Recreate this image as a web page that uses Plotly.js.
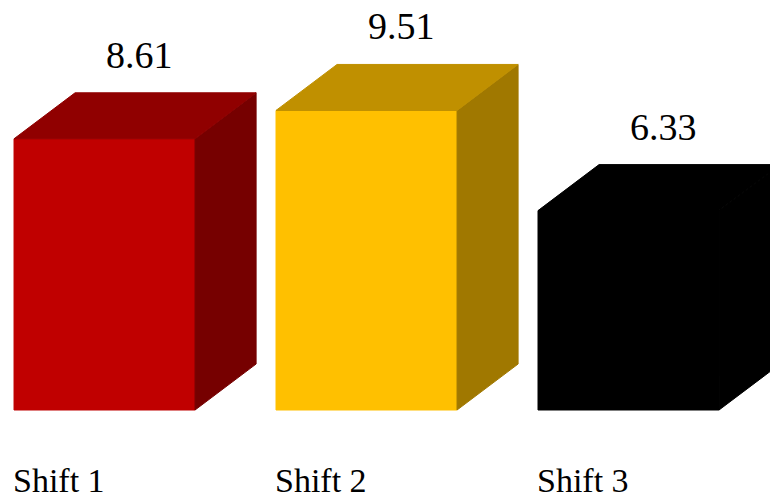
<!DOCTYPE html>
<html>
<head>
<meta charset="utf-8">
<script src="https://cdn.plot.ly/plotly-3.0.1.min.js"></script>
<style>
  html, body { margin: 0; padding: 0; background: #ffffff; }
  #chart { width: 770px; height: 499px; }
</style>
</head>
<body>
<div id="chart"></div>
<script>
// ---- data ----
const categories = ["Shift 1", "Shift 2", "Shift 3"];
const values = [8.61, 9.51, 6.33];
const valueLabels = ["8.61", "9.51", "6.33"];

// ---- styling ----
const frontColors = ["#C00000", "#FFC000", "#000000"];
const topColors   = ["#900000", "#C09000", "#000000"];
const sideColors  = ["#760000", "#A07800", "#000000"];

const barWidth = 0.691;   // front face width in category units
const depthX = 0.233;     // 3D depth offset (x, category units)
const depthY = 1.46;      // 3D depth offset (y, value units)
const fontFamily = "Liberation Serif";

const xs = categories.map((c, i) => i);
const traces = [];

// side and top faces derived from the values
xs.forEach((x, i) => {
  const v = values[i];
  const xl = x - barWidth / 2, xr = x + barWidth / 2;
  traces.push({
    type: "scatter", mode: "lines", fill: "toself",
    x: [xr, xr + depthX, xr + depthX, xr, xr],
    y: [0, depthY, v + depthY, v, 0],
    fillcolor: sideColors[i],
    line: { width: 1, color: sideColors[i] },
    hoverinfo: "skip", showlegend: false
  });
  traces.push({
    type: "scatter", mode: "lines", fill: "toself",
    x: [xl, xl + depthX, xr + depthX, xr, xl],
    y: [v, v + depthY, v + depthY, v, v],
    fillcolor: topColors[i],
    line: { width: 1, color: topColors[i] },
    hoverinfo: "skip", showlegend: false
  });
});

// front faces as real bars
traces.push({
  type: "bar",
  x: xs,
  y: values,
  width: barWidth,
  marker: { color: frontColors, line: { width: 1, color: frontColors } },
  hoverinfo: "skip",
  showlegend: false
});

const annotations = [];
xs.forEach((x, i) => {
  annotations.push({
    x: x + 0.133, y: values[i] + depthY,
    xref: "x", yref: "y",
    text: valueLabels[i],
    showarrow: false,
    xanchor: "center", yanchor: "middle",
    yshift: 38,
    font: { family: fontFamily, size: 38, color: "#000000" }
  });
  annotations.push({
    x: x - barWidth / 2, y: -2.25,
    xref: "x", yref: "y",
    text: categories[i],
    showarrow: false,
    xanchor: "left", yanchor: "middle",
    xshift: -3,
    font: { family: fontFamily, size: 34, color: "#000000" }
  });
});

const layout = {
  width: 770, height: 499,
  margin: { l: 0, r: 0, t: 0, b: 0, pad: 0 },
  paper_bgcolor: "#ffffff",
  plot_bgcolor: "#ffffff",
  font: { family: fontFamily, color: "#000000" },
  showlegend: false,
  barmode: "overlay",
  xaxis: {
    range: [-0.399, 2.540],
    showgrid: false, zeroline: false, showticklabels: false,
    showline: false, ticks: "", fixedrange: true
  },
  yaxis: {
    range: [-2.825, 13.016],
    showgrid: false, zeroline: false, showticklabels: false,
    showline: false, ticks: "", fixedrange: true
  },
  annotations: annotations
};

Plotly.newPlot("chart", traces, layout, { displayModeBar: false, staticPlot: true });
</script>
</body>
</html>
